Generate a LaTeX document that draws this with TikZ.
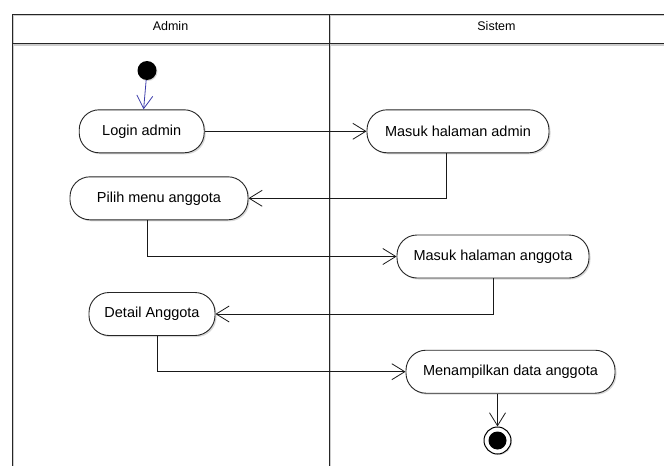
\documentclass[tikz,border=0pt]{standalone}
\usepackage{fontspec}
\setmainfont{Liberation Sans}
\usetikzlibrary{arrows.meta,shadows}
\definecolor{flowblue}{RGB}{60,60,170}
\tikzset{
  act/.style={draw=black!85, line width=0.9pt, fill=white, rounded corners=20pt,
    minimum height=43pt, inner sep=0pt, font=\fontsize{14.5}{17}\selectfont,
    drop shadow={shadow xshift=1.5pt, shadow yshift=-1.5pt, opacity=0.3}},
  flow/.style={draw=black!90, line width=0.8pt, -{Straight Barb[length=13pt,width=16pt,line width=0.8pt]}},
  lane/.style={draw=black!85, line width=1pt},
  laneshadow/.style={draw=black!20, line width=1.2pt},
  hdr/.style={font=\fontsize{12.5}{15}\selectfont}
}
\begin{document}
\begin{tikzpicture}[x=1pt,y=-1pt]
\useasboundingbox (0,0) rectangle (664,466);
% swimlane frame shadows
\draw[laneshadow] (13,15.5) -- (664,15.5);
\draw[laneshadow] (13,45) -- (664,45);
\draw[laneshadow] (13.8,15) -- (13.8,466);
\draw[laneshadow] (330.8,15) -- (330.8,466);
% swimlane frame
\draw[lane] (12,14) -- (664,14);
\draw[lane] (12,43.5) -- (664,43.5);
\draw[lane] (12,14) -- (12,466);
\draw[lane] (329,14) -- (329,466);
\node[hdr] (hadmin) at (170.5,26) {Admin};
\node[hdr] (hsistem) at (496.5,26) {Sistem};
% nodes
\node[circle, fill=black, minimum size=19pt, inner sep=0pt,
      drop shadow={shadow xshift=1pt, shadow yshift=-1pt, opacity=0.3}] (start) at (147,70.5) {};
\node[act, minimum width=125pt] (login) at (141.7,131.3) {Login admin};
\node[act, minimum width=182pt] (madmin) at (458,131.3) {Masuk halaman admin};
\node[act, minimum width=178pt] (pilih) at (159,198.3) {Pilih menu anggota};
\node[act, minimum width=192pt] (manggota) at (493,256.5) {Masuk halaman anggota};
\node[act, minimum width=126pt] (detail) at (152,314) {Detail Anggota};
\node[act, minimum width=209pt] (tampil) at (510.5,371.7) {Menampilkan data anggota};
\node[circle, draw=black, line width=1pt, fill=white, minimum size=27pt, inner sep=0pt,
      drop shadow={shadow xshift=1pt, shadow yshift=-1pt, opacity=0.3}] (end) at (497.5,440.5) {};
\fill[black] (end.center) circle (9pt);
% connectors
\draw[flow, draw=flowblue] (start) -- (login);
\draw[flow] (login.east) -- (madmin.west);
\draw[flow] (madmin.south -| 446,0) |- (pilih.east);
\draw[flow] (pilih.south -| 147,0) |- (manggota.west);
\draw[flow] (manggota.south) |- (detail.east);
\draw[flow] (detail.south -| 157,0) |- (tampil.west);
\draw[flow] (tampil.south -| end.north) -- (end.north);
\end{tikzpicture}
\end{document}
